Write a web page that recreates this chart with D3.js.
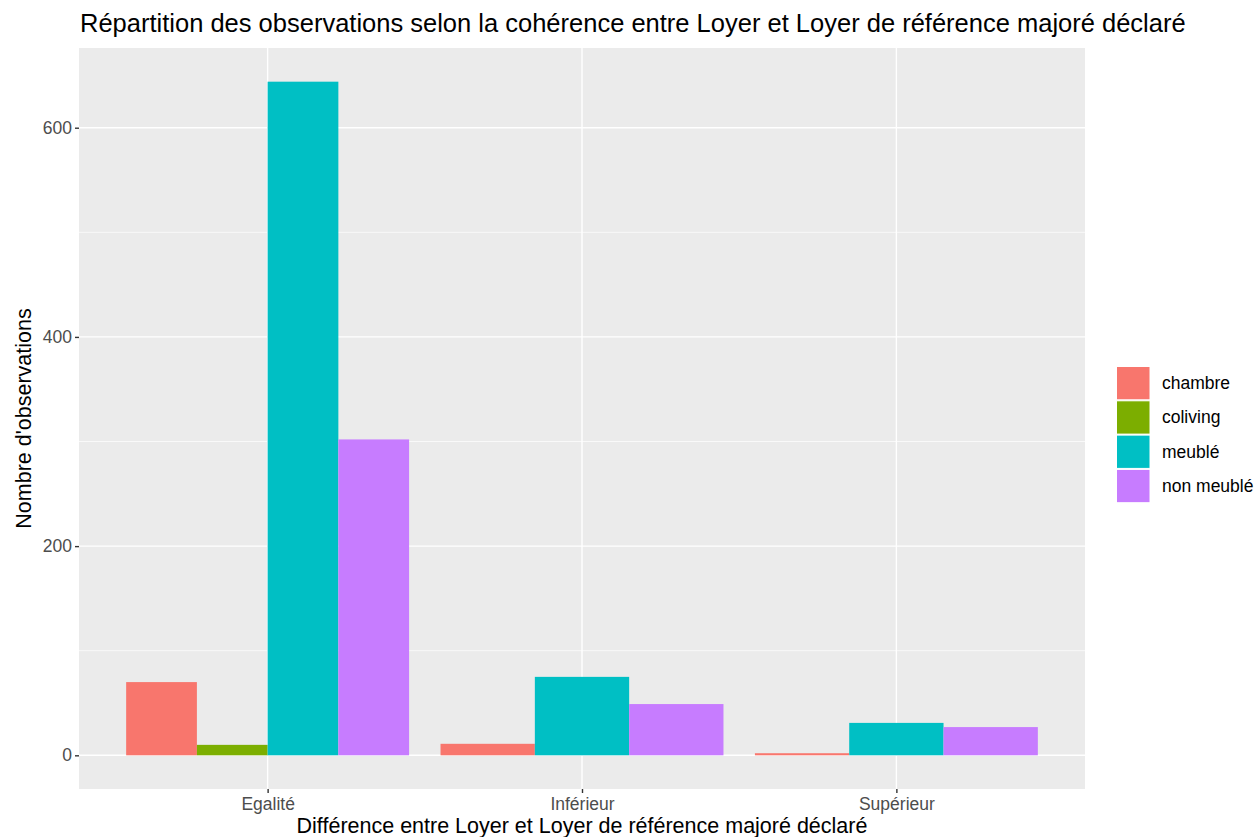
<!DOCTYPE html>
<html><head><meta charset="utf-8">
<script src="https://cdn.jsdelivr.net/npm/d3@7"></script>
<style>body{margin:0;background:#fff;} text{font-family:"Liberation Sans",Arial,sans-serif;}</style>
</head><body>
<svg id="c" width="1257" height="837"></svg>
<script>
const categories = ["Egalité", "Inférieur", "Supérieur"];
const seriesNames = ["chambre", "coliving", "meublé", "non meublé"];
const colors = ["#F8766D", "#7CAE00", "#00BFC4", "#C77CFF"];
const chambre = [70, 11, 2];
const coliving = [10, null, null];
const meuble = [644, 75, 31];
const nonMeuble = [302, 49, 27];
const yTicks = [0, 200, 400, 600];
const yMinor = [100, 300, 500];

const seriesValues = [chambre, coliving, meuble, nonMeuble];
const svg = d3.select("#c");
const panel = {left: 79, right: 1085, top: 48, bottom: 789};
const FONT = "Liberation Sans, Arial, sans-serif";

const xLin = d3.scaleLinear().domain([0.4, 3.6]).range([panel.left, panel.right]);
const yMax = d3.max(seriesValues.flat().filter(v => v != null));
const y = d3.scaleLinear().domain([-0.05 * yMax, yMax * 1.05]).range([panel.bottom, panel.top]);

svg.append("rect").attr("x", panel.left).attr("y", panel.top)
  .attr("width", panel.right - panel.left).attr("height", panel.bottom - panel.top).attr("fill", "#EBEBEB");

yMinor.forEach(t => svg.append("line").attr("x1", panel.left).attr("x2", panel.right)
  .attr("y1", y(t)).attr("y2", y(t)).attr("stroke", "#fff").attr("stroke-width", 0.7));
yTicks.forEach(t => svg.append("line").attr("x1", panel.left).attr("x2", panel.right)
  .attr("y1", y(t)).attr("y2", y(t)).attr("stroke", "#fff").attr("stroke-width", 1.4));
categories.forEach((c, i) => svg.append("line").attr("x1", xLin(i + 1)).attr("x2", xLin(i + 1))
  .attr("y1", panel.top).attr("y2", panel.bottom).attr("stroke", "#fff").attr("stroke-width", 1.4));

// bars with ggplot-like dodge
const bars = [];
categories.forEach((c, i) => {
  const present = seriesNames.map((s, j) => ({s, j, v: seriesValues[j][i]})).filter(d => d.v != null);
  const w = 0.9 / present.length;
  present.forEach((d, k) => {
    const x0 = (i + 1) - 0.45 + k * w;
    bars.push({x0, x1: x0 + w, v: d.v, j: d.j});
  });
});
svg.append("g").selectAll("rect").data(bars).join("rect")
  .attr("x", d => xLin(d.x0)).attr("width", d => xLin(d.x1) - xLin(d.x0))
  .attr("y", d => y(d.v)).attr("height", d => y(0) - y(d.v))
  .attr("fill", d => colors[d.j]);

// axes
const yAxis = d3.axisLeft(y).tickValues(yTicks).tickSize(4).tickPadding(3);
const gy = svg.append("g").attr("transform", `translate(${panel.left},0)`).call(yAxis);
gy.select(".domain").remove();
gy.selectAll(".tick line").attr("stroke", "#333").attr("stroke-width", 1.4);
gy.selectAll(".tick text").attr("fill", "#4D4D4D").attr("font-size", 17.5).style("font-family", FONT);

const xAxis = d3.axisBottom(xLin).tickValues([1, 2, 3]).tickFormat((d) => categories[d - 1]).tickSize(4).tickPadding(5);
const gx = svg.append("g").attr("transform", `translate(0,${panel.bottom})`).call(xAxis);
gx.select(".domain").remove();
gx.selectAll(".tick line").attr("stroke", "#333").attr("stroke-width", 1.4);
gx.selectAll(".tick text").attr("fill", "#4D4D4D").attr("font-size", 17.5).style("font-family", FONT);

// titles
svg.append("text").attr("x", 80).attr("y", 32).attr("font-size", 25.5).attr("fill", "#000")
  .text("Répartition des observations selon la cohérence entre Loyer et Loyer de référence majoré déclaré");
svg.append("text").attr("x", (panel.left + panel.right) / 2).attr("y", 833).attr("text-anchor", "middle")
  .attr("font-size", 21.5).attr("fill", "#000").text("Différence entre Loyer et Loyer de référence majoré déclaré");
svg.append("text").attr("transform", `translate(31,${(panel.top + panel.bottom) / 2}) rotate(-90)`)
  .attr("text-anchor", "middle").attr("font-size", 21.5).attr("fill", "#000").text("Nombre d'observations");

// legend
const lg = svg.append("g").attr("transform", "translate(1116,366)");
seriesNames.forEach((s, j) => {
  lg.append("rect").attr("x", 0.5).attr("y", j * 34.3 + 0.5).attr("width", 33.5).attr("height", 33.3).attr("fill", colors[j]).attr("stroke", "#fff").attr("stroke-width", 1);
  lg.append("text").attr("x", 46).attr("y", j * 34.3 + 17).attr("dy", "0.35em").attr("font-size", 17.5).attr("fill", "#000").text(s);
});
</script>
</body></html>
